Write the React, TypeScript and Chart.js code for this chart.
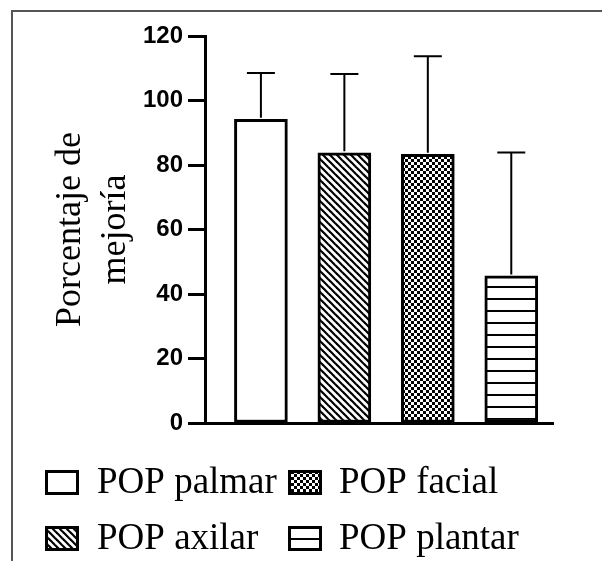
import React, { useEffect, useRef } from "react";
import { Chart, registerables } from "chart.js";

Chart.register(...registerables);

const categories = ["POP palmar", "POP axilar", "POP facial", "POP plantar"];
const means = [94.2, 83.8, 83.3, 45.6];
const errorsUp = [14.3, 24.4, 30.4, 38.3];
const yTicks = [0, 20, 40, 60, 80, 100, 120];
const yTitle = ["Porcentaje de", "mejoría"];
const patternKinds = ["none", "diagonal", "checker", "hlines"];
const legendOrder = [0, 2, 1, 3];

function makePattern(kind: string): CanvasPattern | string {
  if (kind === "none") return "#ffffff";
  const c = document.createElement("canvas");
  const ctx = c.getContext("2d")!;
  if (kind === "diagonal") {
    const s = 7;
    c.width = s;
    c.height = s;
    ctx.fillStyle = "#fff";
    ctx.fillRect(0, 0, s, s);
    ctx.strokeStyle = "#000";
    ctx.lineWidth = 2.2;
    for (const k of [-s, 0, s]) {
      ctx.beginPath();
      ctx.moveTo(k - 1, -1);
      ctx.lineTo(k + s + 1, s + 1);
      ctx.stroke();
    }
  } else if (kind === "checker") {
    const s = 6;
    c.width = s;
    c.height = s;
    ctx.fillStyle = "#fff";
    ctx.fillRect(0, 0, s, s);
    ctx.fillStyle = "#000";
    ctx.fillRect(0, 0, s / 2, s / 2);
    ctx.fillRect(s / 2, s / 2, s / 2, s / 2);
  } else if (kind === "hlines") {
    c.width = 4;
    c.height = 12;
    ctx.fillStyle = "#fff";
    ctx.fillRect(0, 0, 4, 12);
    ctx.fillStyle = "#000";
    ctx.fillRect(0, 10, 4, 2.4);
  }
  return ctx.createPattern(c, "repeat")!;
}

const errorBarPlugin = {
  id: "errorBars",
  afterDatasetsDraw(chart: any) {
    const { ctx } = chart;
    const xs = chart.scales.x;
    const ys = chart.scales.y;
    ctx.save();
    ctx.strokeStyle = "#000";
    ctx.lineWidth = 2;
    means.forEach((m, i) => {
      const x = xs.getPixelForValue(i + 1);
      const y0 = ys.getPixelForValue(m);
      const y1 = ys.getPixelForValue(m + errorsUp[i]);
      ctx.beginPath();
      ctx.moveTo(x, y0 - 1.5);
      ctx.lineTo(x, y1);
      ctx.moveTo(x - 14, y1);
      ctx.lineTo(x + 14, y1);
      ctx.stroke();
    });
    ctx.restore();
  },
};

const legendPlugin = {
  id: "patternLegend",
  afterDraw(chart: any) {
    const { ctx } = chart;
    const fills = chart.data.datasets[0].backgroundColor;
    const colX = [45, 288];
    const textX = [97, 339];
    const rowY = [470, 526];
    const boxW = 34;
    const boxH = 25;
    ctx.save();
    ctx.font = "37px 'Liberation Serif'";
    ctx.textBaseline = "middle";
    ctx.textAlign = "left";
    legendOrder.forEach((idx, k) => {
      const col = k % 2;
      const row = Math.floor(k / 2);
      const x = colX[col];
      const y = rowY[row];
      ctx.fillStyle = fills[idx];
      ctx.fillRect(x, y, boxW, boxH);
      ctx.strokeStyle = "#000";
      ctx.lineWidth = 3;
      ctx.strokeRect(x + 1.5, y + 1.5, boxW - 3, boxH - 3);
      ctx.fillStyle = "#000";
      ctx.fillText(categories[idx], textX[col], y + boxH / 2 + 1);
    });
    ctx.restore();
  },
};

export default function App() {
  const ref = useRef<HTMLCanvasElement>(null);
  useEffect(() => {
    document.body.style.margin = "0";
    const fills = patternKinds.map(makePattern);
    const chart = new Chart(ref.current!, {
      type: "bar",
      data: {
        datasets: [
          {
            label: "Porcentaje de mejoría",
            data: means.map((m, i) => ({ x: i + 1, y: m })),
            backgroundColor: fills as any,
            borderColor: "#000",
            borderWidth: 3,
            borderSkipped: false,
            barThickness: 53,
          },
        ],
      },
      options: {
        animation: false,
        responsive: true,
        maintainAspectRatio: false,
        layout: { padding: { top: 36, bottom: 138, right: 49, left: 0 } },
        plugins: { legend: { display: false }, tooltip: { enabled: false } },
        scales: {
          x: {
            type: "linear",
            offset: false,
            min: 0.33,
            max: 4.5,
            ticks: { display: false },
            grid: { display: false, drawTicks: false, offset: false },
            border: { display: true, width: 3, color: "#000" },
          },
          y: {
            min: 0,
            max: 120,
            afterBuildTicks: (s: any) => {
              s.ticks = yTicks.map((v) => ({ value: v }));
            },
            afterFit: (s: any) => {
              s.width = 205;
            },
            ticks: {
              color: "#000",
              padding: 5,
              font: { family: "'Liberation Sans', Arial", size: 24, weight: "bold" },
            },
            grid: {
              display: true,
              drawOnChartArea: false,
              drawTicks: true,
              tickLength: 17,
              tickWidth: 3,
              tickColor: "#000",
              color: "#000",
            },
            border: { display: true, width: 3, color: "#000" },
            title: {
              display: true,
              text: yTitle,
              color: "#000",
              padding: { top: 48, bottom: 0 },
              font: { family: "'Liberation Serif', 'Times New Roman'", size: 36, lineHeight: 1.25 },
            },
          },
        },
      },
      plugins: [errorBarPlugin, legendPlugin],
    });
    return () => chart.destroy();
  }, []);
  return (
    <div style={{ position: "relative", width: 602, height: 561, background: "#fff" }}>
      <canvas ref={ref} />
      <div
        style={{
          position: "absolute",
          left: 11,
          top: 10,
          right: 0,
          bottom: 0,
          borderLeft: "2px solid #555",
          borderTop: "2px solid #555",
          pointerEvents: "none",
        }}
      />
    </div>
  );
}
